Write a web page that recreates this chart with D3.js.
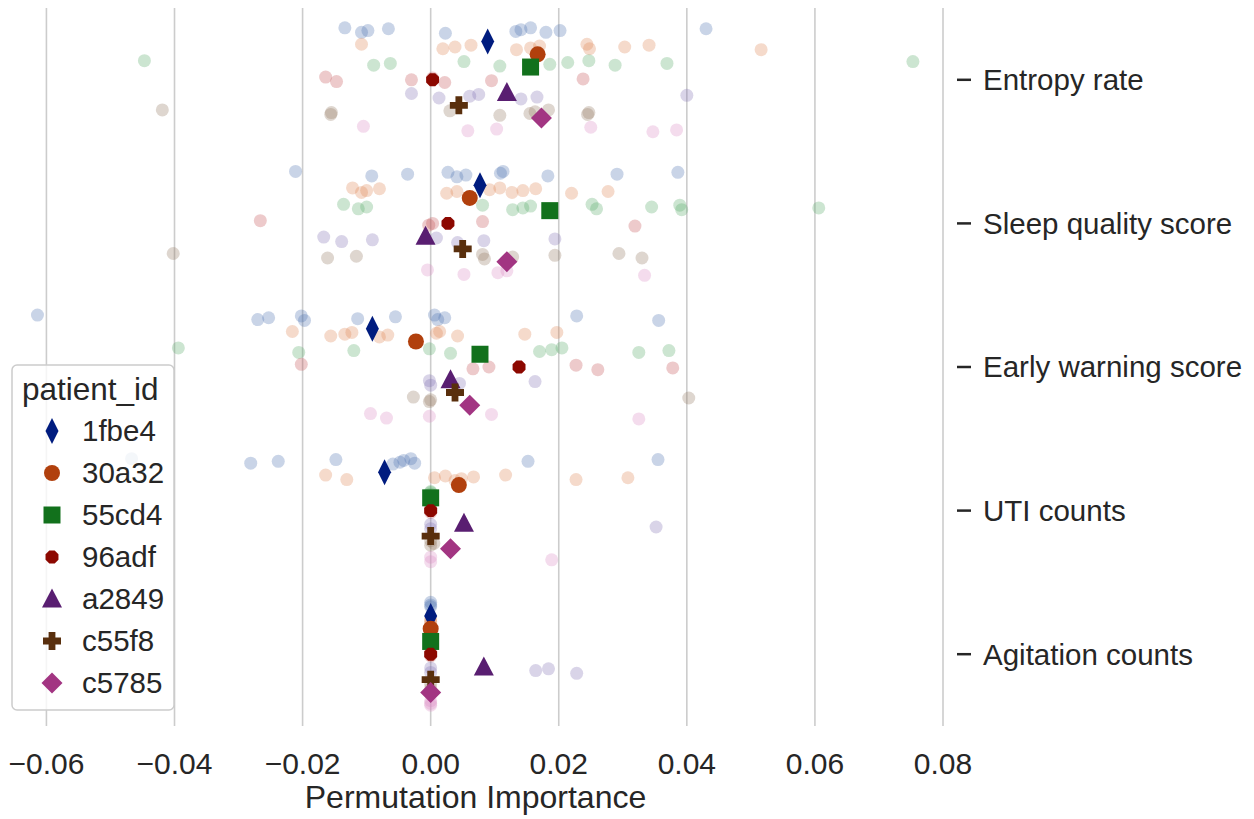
<!DOCTYPE html>
<html>
<head>
<meta charset="utf-8">
<script src="https://cdn.jsdelivr.net/npm/d3@7"></script>
<style>
  body { margin: 0; background: #fff; }
  text { font-family: "Liberation Sans", Arial, sans-serif; fill: #262626; }
</style>
</head>
<body>
<svg id="chart" width="1254" height="819"></svg>
<script>
// Categorías y pacientes
const features = ["Entropy rate", "Sleep quality score", "Early warning score", "UTI counts", "Agitation counts"];
const patients = ["1fbe4", "30a32", "55cd4", "96adf", "a2849", "c55f8", "c5785"];
const xTicks = [-0.06, -0.04, -0.02, 0.00, 0.02, 0.04, 0.06, 0.08];

// Valores de cada repetición (una lista por paciente)
const entropyRate = [
  [-0.0134, -0.0108, -0.0098, -0.0066, 0.0023, 0.0133, 0.0141, 0.0156, 0.0180, 0.0202, 0.0430],
  [-0.0108, 0.0019, 0.0038, 0.0063, 0.0134, 0.0156, 0.0170, 0.0244, 0.0248, 0.0303, 0.0341, 0.0516],
  [-0.0447, -0.0089, -0.0063, 0.0052, 0.0108, 0.0186, 0.0214, 0.0247, 0.0288, 0.0369, 0.0753],
  [-0.0164, -0.0147, -0.0030, 0.0003, 0.0022, 0.0095, 0.0238],
  [-0.0030, 0.0013, 0.0061, 0.0075, 0.0141, 0.0166, 0.0400],
  [-0.0419, -0.0156, -0.0155, 0.0030, 0.0108, 0.0155, 0.0163, 0.0184, 0.0245, 0.0247],
  [-0.0105, 0.0058, 0.0103, 0.0250, 0.0347, 0.0384]
];
const sleepQuality = [
  [-0.0211, -0.0092, -0.0036, 0.0027, 0.0041, 0.0055, 0.0109, 0.0113, 0.0183, 0.0291, 0.0386],
  [-0.0122, -0.0108, -0.0100, -0.0080, 0.0025, 0.0041, 0.0092, 0.0108, 0.0127, 0.0144, 0.0164, 0.0220, 0.0277],
  [-0.0136, -0.0113, -0.0100, 0.0081, 0.0128, 0.0144, 0.0156, 0.0252, 0.0259, 0.0345, 0.0389, 0.0392, 0.0606],
  [-0.0266, -0.0003, 0.0003, 0.0081, 0.0319],
  [-0.0167, -0.0139, -0.0091, 0.0009, 0.0042, 0.0083, 0.0194],
  [-0.0402, -0.0161, -0.0116, 0.0081, 0.0084, 0.0128, 0.0194, 0.0294, 0.0330],
  [-0.0005, 0.0052, 0.0105, 0.0119, 0.0334]
];
const earlyWarning = [
  [-0.0614, -0.0270, -0.0253, -0.0202, -0.0197, -0.0114, -0.0055, 0.0006, 0.0011, 0.0022, 0.0228, 0.0356],
  [-0.0216, -0.0156, -0.0134, -0.0123, -0.0080, -0.0067, 0.0009, 0.0014, 0.0042, 0.0147, 0.0197],
  [-0.0394, -0.0206, -0.0120, -0.0002, 0.0031, 0.0170, 0.0189, 0.0205, 0.0325, 0.0372],
  [-0.0202, 0.0066, 0.0091, 0.0227, 0.0261, 0.0378],
  [-0.0002, 0.0000, 0.0045, 0.0163],
  [-0.0027, -0.0002, 0.0000, 0.0403],
  [-0.0094, -0.0069, -0.0002, 0.0095, 0.0325]
];
const utiCounts = [
  [-0.0467, -0.0281, -0.0238, -0.0148, -0.0059, -0.0048, -0.0042, -0.0031, -0.0025, 0.0152, 0.0355],
  [-0.0164, -0.0131, 0.0006, 0.0023, 0.0038, 0.0048, 0.0067, 0.0117, 0.0227, 0.0308],
  [0, 0, 0, 0, 0],
  [0, 0, 0, 0],
  [0, 0, 0.0352],
  [0, 0, 0.0005],
  [0, 0, 0.0189]
];
const agitationCounts = [
  [0, 0, 0],
  [0, 0, 0],
  [0, 0],
  [0, 0],
  [0, 0, 0.0164, 0.0184, 0.0228],
  [0, 0],
  [0, 0, 0]
];

// Media por paciente (marcadores grandes)
const meanEntropyRate = [0.0089, 0.0167, 0.0156, 0.0003, 0.0119, 0.0044, 0.0173];
const meanSleepQuality = [0.0077, 0.0061, 0.0186, 0.0027, -0.0008, 0.0050, 0.0119];
const meanEarlyWarning = [-0.0091, -0.0023, 0.0077, 0.0138, 0.0031, 0.0038, 0.0061];
const meanUtiCounts = [-0.0072, 0.0044, 0.0000, 0.0000, 0.0052, 0.0000, 0.0031];
const meanAgitationCounts = [0.0000, 0.0000, 0.0000, 0.0000, 0.0083, 0.0000, 0.0000];

const pointValues = [entropyRate, sleepQuality, earlyWarning, utiCounts, agitationCounts];
const meanValues = [meanEntropyRate, meanSleepQuality, meanEarlyWarning, meanUtiCounts, meanAgitationCounts];

// Paletas (deep para puntos, dark para medias)
const lightColors = ["#4c72b0", "#dd8452", "#55a868", "#c44e52", "#8172b3", "#937860", "#da8bc3"];
const darkColors = ["#001c7f", "#b1400d", "#12711c", "#8c0800", "#591e71", "#592f0d", "#a23582"];
const markers = ["thinDiamond", "circle", "square", "octagon", "triangle", "plus", "diamond"];

const svg = d3.select("#chart");

const x = d3.scaleLinear().domain([-0.066, 0.08]).range([8, 943]);
const y = d3.scaleBand().domain(features).range([8, 726]).padding(0);
const bw = y.bandwidth();
const yc = f => y(f) + bw / 2;

// Desplazamiento por paciente
const stripOffset = i => (-0.4 + 0.8 / patients.length * (i + 0.5)) * bw;
const meanOffset = i => (i - 3) * (0.533 / 6) * bw;
const jitter = j => ((j * 5) % 7 - 3) * 0.9;

// Formas de marcador
function markerPath(type) {
  switch (type) {
    case "thinDiamond": return "M0,-13L6.5,0L0,13L-6.5,0Z";
    case "circle": return d3.symbol(d3.symbolCircle, Math.PI * 8 * 8)();
    case "square": return "M-8.5,-8.5H8.5V8.5H-8.5Z";
    case "octagon": {
      const pts = d3.range(8).map(k => {
        const a = Math.PI / 8 + k * Math.PI / 4;
        return [7 * Math.cos(a), 7 * Math.sin(a)];
      });
      return "M" + pts.map(p => p.join(",")).join("L") + "Z";
    }
    case "triangle": return "M0,-10.5L10,8.5L-10,8.5Z";
    case "plus": {
      const u = 3.4, h = 9;
      return `M${-u},${-h}H${u}V${-u}H${h}V${u}H${u}V${h}H${-u}V${u}H${-h}V${-u}H${-u}Z`;
    }
    case "diamond": return "M0,-10.5L10.5,0L0,10.5L-10.5,0Z";
  }
}

// Rejilla vertical
svg.append("g")
  .selectAll("line")
  .data(xTicks)
  .enter()
  .append("line")
  .attr("x1", d => x(d))
  .attr("x2", d => x(d))
  .attr("y1", 8)
  .attr("y2", 726)
  .style("stroke", "#cccccc")
  .style("stroke-width", 1.6);

// Puntos individuales
const strips = [];
features.forEach((f, fi) => {
  patients.forEach((p, pi) => {
    pointValues[fi][pi].forEach((v, j) => {
      strips.push({ f, pi, v, j });
    });
  });
});

svg.append("g")
  .selectAll("circle")
  .data(strips)
  .enter()
  .append("circle")
  .attr("cx", d => x(d.v))
  .attr("cy", d => yc(d.f) + stripOffset(d.pi) + jitter(d.j))
  .attr("r", 6.5)
  .style("fill", d => lightColors[d.pi])
  .style("opacity", 0.3);

// Medias
const means = [];
features.forEach((f, fi) => {
  patients.forEach((p, pi) => {
    means.push({ f, pi, v: meanValues[fi][pi] });
  });
});

svg.append("g")
  .selectAll("path")
  .data(means)
  .enter()
  .append("path")
  .attr("d", d => markerPath(markers[d.pi]))
  .attr("transform", d => `translate(${x(d.v)},${yc(d.f) + meanOffset(d.pi)})`)
  .style("fill", d => darkColors[d.pi]);

// Eje X
const fmt = d3.format(".2f");
svg.append("g")
  .selectAll("text")
  .data(xTicks)
  .enter()
  .append("text")
  .attr("x", d => x(d))
  .attr("y", 774)
  .attr("text-anchor", "middle")
  .style("font-size", "30px")
  .text(d => fmt(d));

svg.append("text")
  .attr("x", (x.range()[0] + x.range()[1]) / 2)
  .attr("y", 808)
  .attr("text-anchor", "middle")
  .style("font-size", "32px")
  .text("Permutation Importance");

// Eje Y a la derecha
const yAxis = svg.append("g");
yAxis.selectAll("line")
  .data(features)
  .enter()
  .append("line")
  .attr("x1", 957)
  .attr("x2", 971)
  .attr("y1", d => yc(d))
  .attr("y2", d => yc(d))
  .style("stroke", "#262626")
  .style("stroke-width", 2.5);

yAxis.selectAll("text")
  .data(features)
  .enter()
  .append("text")
  .attr("x", 983)
  .attr("y", d => yc(d))
  .attr("dy", "0.35em")
  .style("font-size", "29.5px")
  .text(d => d);

// Leyenda
const legend = svg.append("g");
legend.append("rect")
  .attr("x", 12)
  .attr("y", 365)
  .attr("width", 162)
  .attr("height", 345)
  .attr("rx", 5)
  .style("fill", "#ffffff")
  .style("fill-opacity", 0.8)
  .style("stroke", "#cccccc")
  .style("stroke-width", 1.5);

legend.append("text")
  .attr("x", 22)
  .attr("y", 400)
  .style("font-size", "31.5px")
  .text("patient_id");

const items = legend.selectAll(".item")
  .data(patients)
  .enter()
  .append("g")
  .attr("class", "item")
  .attr("transform", (d, i) => `translate(0,${431 + i * 42})`);

items.append("path")
  .attr("d", (d, i) => markerPath(markers[i]))
  .attr("transform", "translate(52,0)")
  .style("fill", (d, i) => darkColors[i]);

items.append("text")
  .attr("x", 82)
  .attr("dy", "0.35em")
  .style("font-size", "29.5px")
  .text(d => d);
</script>
</body>
</html>
